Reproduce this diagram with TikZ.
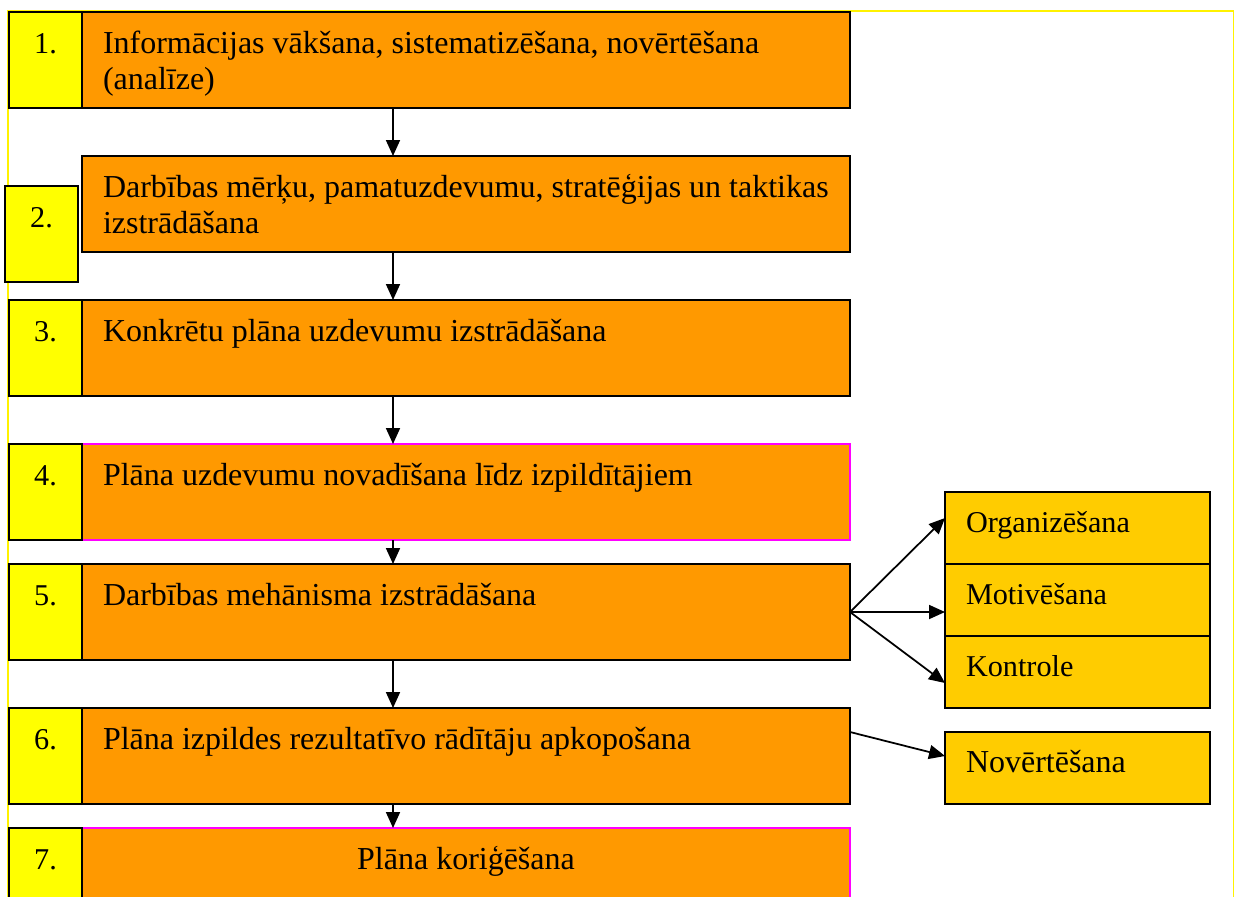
\documentclass[tikz,border=0pt]{standalone}
\usepackage{fontspec}
\setmainfont{Liberation Serif}
\usepackage{xcolor}
\usetikzlibrary{arrows.meta, positioning}

\definecolor{steporange}{RGB}{255,153,0}
\definecolor{numyellow}{RGB}{255,255,0}
\definecolor{sidegold}{RGB}{255,204,0}
\definecolor{edgepink}{RGB}{255,0,255}

\newcommand{\steptext}[1]{\parbox[c][1.92cm][t]{14.52cm}{\fontsize{18.2pt}{21pt}\selectfont\rule{0pt}{0.82cm}#1}}
\newcommand{\numtext}[1]{\parbox[c][1.92cm][t]{1.46cm}{\centering\rule{0pt}{0.82cm}#1}}
\newcommand{\sidetext}[1]{\parbox[c][1.44cm][t]{4.46cm}{\rule{0pt}{0.8cm}#1}}

\begin{document}
\begin{tikzpicture}[
        every node/.style={font=\fontsize{17.2pt}{20.4pt}\selectfont, outer sep=0pt, inner sep=0pt},
        stepbox/.style={rectangle, draw=black, line width=1pt, fill=steporange, minimum width=15.36cm, minimum height=1.92cm, inner xsep=0.42cm},
        pinkbox/.style={stepbox, draw=edgepink},
        numbox/.style={rectangle, draw=black, line width=1pt, fill=numyellow, minimum width=1.46cm, minimum height=1.92cm},
        sidebox/.style={rectangle, draw=black, line width=1pt, fill=sidegold, minimum width=5.3cm, minimum height=1.44cm, inner xsep=0.42cm},
        arr/.style={-{Triangle[length=0.32cm, width=0.28cm]}, line width=1pt}
    ]
        \useasboundingbox (0,0) rectangle (24.74,-17.92);
        \clip (0,0) rectangle (24.74,-17.92);
        \draw[yellow, line width=1pt] (0.16,-18.5) -- (0.16,-0.22) -- (24.67,-0.22) -- (24.67,-18.5);

        \node[numbox, anchor=north west] (n1) at (0.18,-0.24) {\numtext{1.}};
        \node[stepbox, right=0pt of n1]   (s1) {\steptext{Informācijas vākšana, sistematizēšana, novērtēšana\\(analīze)}};
        \node[stepbox, below=0.96cm of s1] (s2) {\steptext{Darbības mērķu, pamatuzdevumu, stratēģijas un taktikas\\izstrādāšana}};
        \node[stepbox, below=0.96cm of s2] (s3) {\steptext{Konkrētu plāna uzdevumu izstrādāšana}};
        \node[pinkbox, below=0.96cm of s3] (s4) {\steptext{Plāna uzdevumu novadīšana līdz izpildītājiem}};
        \node[stepbox, below=0.48cm of s4] (s5) {\steptext{Darbības mehānisma izstrādāšana}};
        \node[stepbox, below=0.96cm of s5] (s6) {\steptext{Plāna izpildes rezultatīvo rādītāju apkopošana}};
        \node[pinkbox, below=0.48cm of s6] (s7) {\steptext{\centering Plāna koriģēšana}};

        \node[numbox, anchor=north east] (n2) at ([shift={(-0.08,-0.6)}]s2.north west) {\numtext{2.}};
        \node[numbox, left=0pt of s3] (n3) {\numtext{3.}};
        \node[numbox, left=0pt of s4] (n4) {\numtext{4.}};
        \node[numbox, left=0pt of s5] (n5) {\numtext{5.}};
        \node[numbox, left=0pt of s6] (n6) {\numtext{6.}};
        \node[numbox, left=0pt of s7] (n7) {\numtext{7.}};

        \node[sidebox, anchor=north west] (mot) at ([xshift=1.9cm]s5.north east) {\sidetext{Motivēšana}};
        \node[sidebox, above=0pt of mot] (org) {\sidetext{Organizēšana}};
        \node[sidebox, below=0pt of mot] (kon) {\sidetext{Kontrole}};
        \node[sidebox, anchor=south west] (nov) at ([xshift=1.9cm]s6.south east) {\sidetext{\fontsize{18.2pt}{21pt}\selectfont Novērtēšana}};

        \draw[arr] ([xshift=-1.46cm]s1.south) -- ([xshift=-1.46cm]s2.north);
        \draw[arr] ([xshift=-1.46cm]s2.south) -- ([xshift=-1.46cm]s3.north);
        \draw[arr] ([xshift=-1.46cm]s3.south) -- ([xshift=-1.46cm]s4.north);
        \draw[arr] ([xshift=-1.46cm]s4.south) -- ([xshift=-1.46cm]s5.north);
        \draw[arr] ([xshift=-1.46cm]s5.south) -- ([xshift=-1.46cm]s6.north);
        \draw[arr] ([xshift=-1.46cm]s6.south) -- ([xshift=-1.46cm]s7.north);
        \draw[arr] (s5.east) -- ([yshift=0.2cm]org.west);
        \draw[arr] (s5.east) -- (s5.east -| mot.west);
        \draw[arr] (s5.east) -- ([yshift=-0.22cm]kon.west);
        \draw[arr] ([yshift=0.48cm]s6.east) -- ([yshift=0.24cm]nov.west);
    \end{tikzpicture}
\end{document}
